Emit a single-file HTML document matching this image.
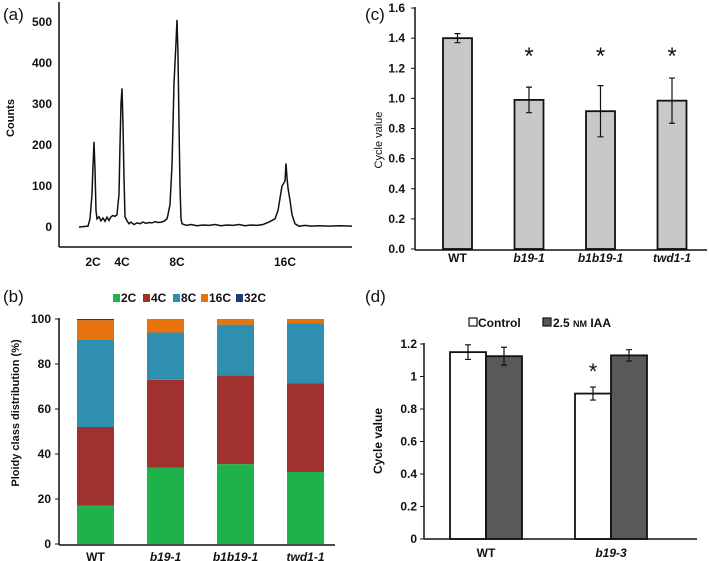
<!DOCTYPE html>
<html><head><meta charset="utf-8"><style>
html,body{margin:0;padding:0;background:#fff;}
svg{display:block;font-family:"Liberation Sans",Arial,sans-serif;}
.t{font-size:12px;font-weight:bold;fill:#111;}
.lab{font-size:17px;fill:#111;}
.tt{font-size:11px;fill:#111;}
</style></head><body>
<svg id="fig" width="709" height="561" viewBox="0 0 709 561"></svg>
<script>
// ---- Panel (a) data: flow cytometry histogram
const aChannels=[0,9,11,13,14,15,16,17,18,20,22,24,26,28,30,32,34,36,38,40,41,42,43,44,45,46,48,50,52,55,58,61,64,67,70,73,76,79,82,85,88,89,91,93,95,97,98,99,100,101,102,103,105,108,112,118,124,130,136,142,148,154,160,166,172,178,184,190,196,199,201,203,205,206,207,208,209,211,213,216,220,226,232,240,250,260,273];
const aCounts=[0,2,20,80,150,208,140,40,20,25,15,22,14,24,16,25,28,26,30,80,200,300,338,250,120,25,15,8,12,6,10,8,12,9,11,10,13,11,12,14,20,30,55,150,350,450,505,420,250,100,20,8,6,4,6,3,5,4,6,3,5,4,6,3,5,4,6,12,20,40,70,100,108,112,155,120,95,65,30,8,2,4,2,3,2,3,2];
const aYTicks=[0,100,200,300,400,500];
const aXLabels=["2C","4C","8C","16C"];
const aXLabelChannels=[14,43,98,206];
// ---- Panel (b) data: stacked ploidy
const bCats=["WT","b19-1","b1b19-1","twd1-1"];
const bSeriesNames=["2C","4C","8C","16C","32C"];
const b2C=[17,34,35.5,32];
const b4C=[35,39,39.5,39.5];
const b8C=[39,21,22.5,26.5];
const b16C=[8.5,6,2.5,2];
const b32C=[0.5,0,0,0];
const bYTicks=[0,20,40,60,80,100];
// ---- Panel (c) data
const cCats=["WT","b19-1","b1b19-1","twd1-1"];
const cVals=[1.40,0.99,0.915,0.985];
const cErr=[0.03,0.085,0.17,0.15];
const cSig=[false,true,true,true];
const cYTicks=["0.0","0.2","0.4","0.6","0.8","1.0","1.2","1.4","1.6"];
// ---- Panel (d) data
const dCats=["WT","b19-3"];
const dControl=[1.15,0.895];
const dControlErr=[0.045,0.04];
const dIAA=[1.125,1.13];
const dIAAErr=[0.055,0.035];
const dSig=[false,true];
const dYTicks=["0","0.2","0.4","0.6","0.8","1","1.2"];

const NS="http://www.w3.org/2000/svg";
const svg=document.getElementById('fig');
function mk(tag,attrs,parent,text){const e=document.createElementNS(NS,tag);for(const k in attrs)e.setAttribute(k,attrs[k]);if(text!==undefined)e.textContent=text;(parent||svg).appendChild(e);return e;}
function grp(name){const g=mk('g',{});return g;}

// ===== Panel (a)
(function(){
 const g=grp('panel-a');
 const ya=v=>227-v*0.41, xa=c=>79+c;
 const l=mk('text',{x:3,y:20,class:'lab'},g,'(a)');
 mk('line',{x1:59,y1:2,x2:59,y2:247,stroke:'#111','stroke-width':1.5},g);
 mk('line',{x1:59,y1:247,x2:352,y2:247,stroke:'#111','stroke-width':1.5},g);
 aYTicks.forEach(v=>{const t=mk('text',{x:52,y:ya(v)+4,class:'t','text-anchor':'end'},g,String(v));});
 aXLabels.forEach((s,i)=>{const t=mk('text',{x:xa(aXLabelChannels[i]),y:266,class:'t','text-anchor':'middle'},g,s);});
 const yt=mk('text',{x:14,y:118,class:'tt','font-weight':'bold','text-anchor':'middle',transform:'rotate(-90 14 118)','font-size':'10'},g,'Counts');
 const d=aChannels.map((c,i)=>(i?'L':'M')+xa(c)+' '+ya(aCounts[i])).join(' ');
 const p=mk('path',{d:d,fill:'none',stroke:'#111','stroke-width':1.5},g);
})();

// ===== Panel (b)
(function(){
 const g=grp('panel-b');
 const yb=v=>544-v*2.25, xb=i=>77+i*70, bw=37;
 const colors=['#1db34a','#a0312e','#2f8fae','#e8720c','#1f3a7a'];
 const series=[b2C,b4C,b8C,b16C,b32C];
 const l=mk('text',{x:3,y:302,class:'lab'},g,'(b)');
 const legX=[113,143,173,201,236];
 bSeriesNames.forEach((n,i)=>{const s=mk('rect',{x:legX[i],y:294,width:7,height:8,fill:colors[i]},g);
  const t=mk('text',{x:legX[i]+8,y:302,class:'t'},g,n);});
 bCats.forEach((c,i)=>{let acc=0;series.forEach((s,k)=>{const v=s[i];if(v>0){const r=mk('rect',{x:xb(i),y:yb(acc+v),width:bw,height:v*2.25,fill:colors[k]},g);}acc+=v;});
  const t=mk('text',{x:xb(i)+bw/2,y:561,class:'t','text-anchor':'middle','font-style':i?'italic':'normal'},g,c);});
 mk('line',{x1:59,y1:318,x2:59,y2:545,stroke:'#111','stroke-width':1.5},g);
 mk('line',{x1:59,y1:545,x2:335,y2:545,stroke:'#111','stroke-width':1.5},g);
 bYTicks.forEach(v=>{mk('line',{x1:55,y1:yb(v),x2:59,y2:yb(v),stroke:'#111'},g);const t=mk('text',{x:51,y:yb(v)+4,class:'t','text-anchor':'end'},g,String(v));});
 const yt=mk('text',{x:19,y:413,class:'tt','font-weight':'bold','text-anchor':'middle',transform:'rotate(-90 19 413)'},g,'Ploidy class distribution (%)');
})();

// ===== Panel (c)
(function(){
 const g=grp('panel-c');
 const yc=v=>249-v*150.6, xc=i=>443+i*71.5, bw=29;
 const l=mk('text',{x:365,y:20,class:'lab'},g,'(c)');
 cCats.forEach((c,i)=>{const r=mk('rect',{x:xc(i),y:yc(cVals[i]),width:bw,height:cVals[i]*150.6,fill:'#c8c8c8',stroke:'#111','stroke-width':1.8},g);
  const cx=xc(i)+bw/2,t0=yc(cVals[i]+cErr[i]),t1=yc(cVals[i]-cErr[i]);
  const e=mk('path',{d:`M${cx} ${t0}V${t1}M${cx-3} ${t0}H${cx+3}M${cx-3} ${t1}H${cx+3}`,stroke:'#111','stroke-width':1.2,fill:'none'},g);
  if(cSig[i]){const s=mk('text',{x:cx,y:64,'font-size':'24','text-anchor':'middle',fill:'#111'},g,'*');}
  const t=mk('text',{x:cx,y:262,class:'t','text-anchor':'middle','font-style':i?'italic':'normal'},g,c);});
 mk('line',{x1:415,y1:7,x2:415,y2:250,stroke:'#111','stroke-width':1.5},g);
 mk('line',{x1:415,y1:250,x2:707,y2:250,stroke:'#111','stroke-width':1.5},g);
 cYTicks.forEach(v=>{const y=yc(parseFloat(v));mk('line',{x1:411,y1:y,x2:415,y2:y,stroke:'#111'},g);const t=mk('text',{x:405,y:y+4,class:'t','text-anchor':'end'},g,v);});
 const yt=mk('text',{x:382,y:140,class:'tt','text-anchor':'middle',transform:'rotate(-90 382 140)'},g,'Cycle value');
})();

// ===== Panel (d)
(function(){
 const g=grp('panel-d');
 const yd=v=>539-v*162.5, bw=36, xd=i=>450+i*125;
 const l=mk('text',{x:365,y:302,class:'lab'},g,'(d)');
 const s1=mk('rect',{x:469,y:318,width:8,height:8,fill:'#fff',stroke:'#111','stroke-width':1.2},g);
 const t1=mk('text',{x:478,y:327,'font-size':'12','font-weight':'bold',fill:'#111'},g,'Control');
 const s2=mk('rect',{x:543,y:318,width:8,height:8,fill:'#595959',stroke:'#111','stroke-width':1.2},g);
 const t2=mk('text',{x:553,y:327,'font-size':'12','font-weight':'bold',fill:'#111'},g);
 t2.innerHTML='2.5 <tspan font-size="9">NM</tspan> IAA';
 function bar(i,off,v,err,fill,name){const x=xd(i)+off;const r=mk('rect',{x:x,y:yd(v),width:bw,height:v*162.5,fill:fill,stroke:'#111','stroke-width':1.8},g);
  const cx=x+bw/2,a=yd(v+err),b=yd(v-err);const e=mk('path',{d:`M${cx} ${a}V${b}M${cx-3} ${a}H${cx+3}M${cx-3} ${b}H${cx+3}`,stroke:'#111','stroke-width':1.2,fill:'none'},g);return cx;}
 dCats.forEach((c,i)=>{const cx=bar(i,0,dControl[i],dControlErr[i],'#fff','bar-'+c+'-control');bar(i,bw,dIAA[i],dIAAErr[i],'#595959','bar-'+c+'-iaa');
  if(dSig[i]){const s=mk('text',{x:cx,y:yd(dControl[i]+dControlErr[i])-8,'font-size':'22','text-anchor':'middle',fill:'#111'},g,'*');}
  const t=mk('text',{x:xd(i)+bw,y:557,class:'t','text-anchor':'middle','font-style':i?'italic':'normal'},g,c);});
 mk('line',{x1:424,y1:343,x2:424,y2:539,stroke:'#111','stroke-width':1.5},g);
 mk('line',{x1:424,y1:539,x2:697,y2:539,stroke:'#111','stroke-width':1.5},g);
 dYTicks.forEach(v=>{const y=yd(parseFloat(v));mk('line',{x1:420,y1:y,x2:424,y2:y,stroke:'#111'},g);const t=mk('text',{x:417,y:y+4,class:'t','font-size':'12','text-anchor':'end'},g,v);});
 const yt=mk('text',{x:382,y:441,'font-size':'12','font-weight':'bold',fill:'#111','text-anchor':'middle',transform:'rotate(-90 382 441)'},g,'Cycle value');
})();
</script>
</body></html>
